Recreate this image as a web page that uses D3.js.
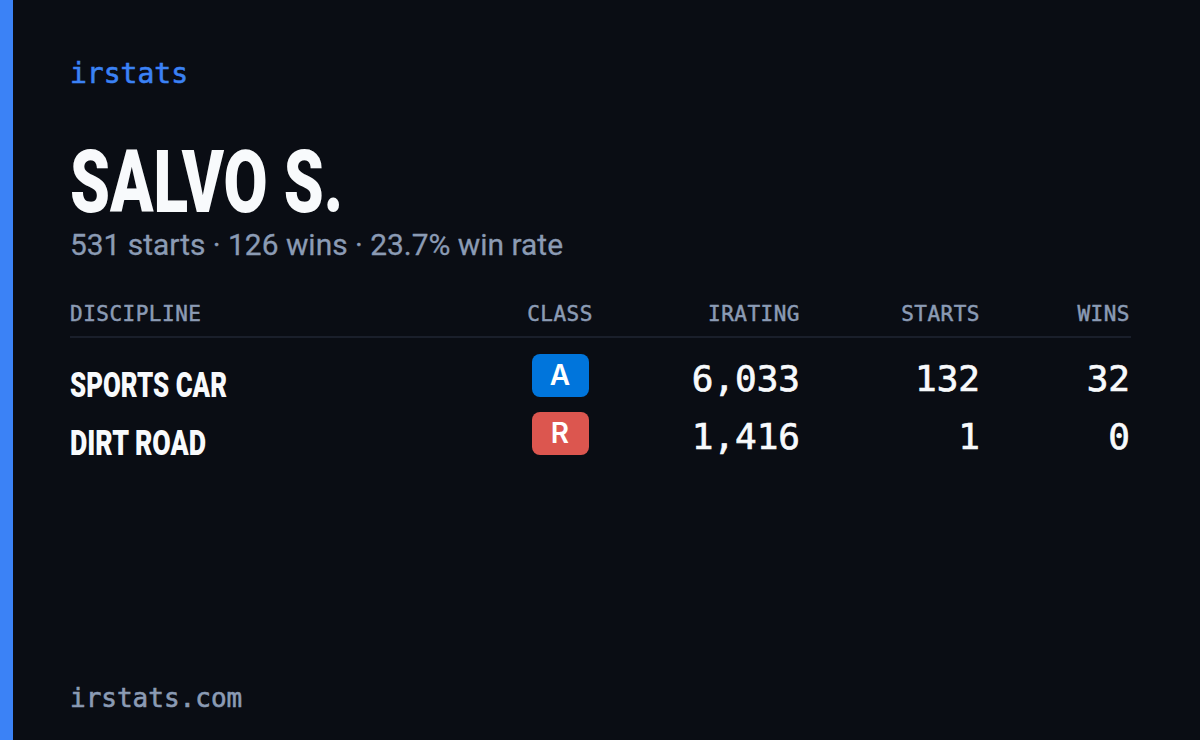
<!DOCTYPE html>
<html>
<head>
<meta charset="utf-8">
<script src="https://cdnjs.cloudflare.com/ajax/libs/d3/7.8.5/d3.min.js"></script>
<style>
  html, body { margin: 0; padding: 0; background: #0a0d14; }
  svg { display: block; }
</style>
</head>
<body>
<svg id="card" width="1200" height="740"></svg>
<script>
/* Stats card: one header row, one row per discipline */
const columns = ['DISCIPLINE', 'CLASS', 'IRATING', 'STARTS', 'WINS'];
const disciplines = ['SPORTS CAR', 'DIRT ROAD'];
const disciplineWidths = [157, 136];
const classes = ['A', 'R'];
const classColors = ['#0075dc', '#dc564f'];
const iratings = [6033, 1416];
const starts = [132, 1];
const wins = [32, 0];

const MONO = '"DejaVu Sans Mono", monospace';
const HEAVY = 'Roboto, "Liberation Sans", sans-serif';
const SANS = 'Roboto, sans-serif';
const MUTED = '#8b9bb4';
const WHITE = '#f8fafc';

const svg = d3.select('#card');
const rowY = d3.scalePoint().domain(disciplines).range([376, 434]);
const fmt = d3.format(',');

svg.append('rect').attr('width', 1200).attr('height', 740).attr('fill', '#0a0d14');
svg.append('rect').attr('width', 13).attr('height', 740).attr('fill', '#3b82f6');

function addText(x, y, str, font, size, weight, fill, anchor) {
    return svg.append('text')
        .attr('x', x).attr('y', y)
        .attr('font-family', font)
        .attr('font-size', size)
        .attr('font-weight', weight)
        .attr('fill', fill)
        .attr('text-anchor', anchor || 'start')
        .text(str);
}

// the mono font only has regular and bold, a thin stroke gets the medium look
function thicken(sel, w) {
    return sel.attr('stroke', sel.attr('fill')).attr('stroke-width', w);
}

// squeeze to a measured width, there is no condensed face installed
function squeeze(sel, w) {
    return sel.attr('textLength', w).attr('lengthAdjust', 'spacingAndGlyphs');
}

thicken(addText(70, 83, 'irstats', MONO, 28, 400, '#3b82f6'), 0.6);
squeeze(addText(70, 212, 'SALVO S.', HEAVY, 87, 900, WHITE), 273);
thicken(squeeze(addText(70, 255, '531 starts · 126 wins · 23.7% win rate', SANS, 29.5, 400, MUTED), 493), 0.3);
thicken(addText(70, 707, 'irstats.com', MONO, 26, 400, MUTED), 0.6);

/* header */
const headX = [70, 560, 800, 980, 1130];
const headAnchor = ['start', 'middle', 'end', 'end', 'end'];
columns.forEach((c, i) => {
    thicken(addText(headX[i], 321, c, MONO, 21, 400, MUTED, headAnchor[i]), 0.5)
        .attr('letter-spacing', 0.5);
});
svg.append('line')
    .attr('x1', 70).attr('x2', 1131).attr('y1', 337).attr('y2', 337)
    .attr('stroke', '#1a1f2b').attr('stroke-width', 2);

/* rows */
disciplines.forEach((d, i) => {
    const y = rowY(d);
    squeeze(addText(70, y + 21, d, HEAVY, 35, 900, WHITE), disciplineWidths[i]);
    svg.append('rect')
        .attr('x', 532).attr('y', y - 22)
        .attr('width', 57).attr('height', 43).attr('rx', 8)
        .attr('fill', classColors[i]);
    addText(560, y + 8.5, classes[i], 'Inter, Roboto, sans-serif', 28, 600, '#ffffff', 'middle');
    thicken(addText(800, y + 15, fmt(iratings[i]), MONO, 36, 400, WHITE, 'end'), 0.7);
    thicken(addText(980, y + 15, fmt(starts[i]), MONO, 36, 400, WHITE, 'end'), 0.7);
    thicken(addText(1130, y + 15, fmt(wins[i]), MONO, 36, 400, WHITE, 'end'), 0.7);
});
</script>
</body>
</html>
